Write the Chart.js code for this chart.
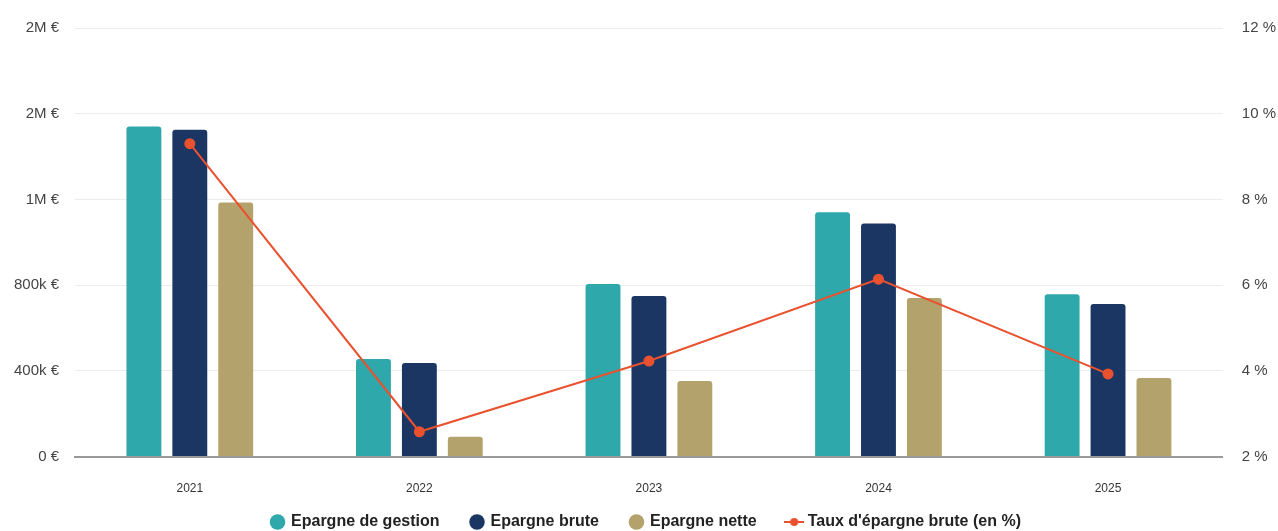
<!DOCTYPE html>
<html>
<head>
<meta charset="utf-8">
<script src="https://cdn.jsdelivr.net/npm/chart.js@4"></script>
<style>
  html, body { margin: 0; padding: 0; background: #fff; }
  #wrap { width: 1278px; height: 531px; }
</style>
</head>
<body>
<div id="wrap"><canvas id="epargneChart"></canvas></div>
<script>
const years = ['2021', '2022', '2023', '2024', '2025'];
const epargneGestion = [1540000, 456000, 805000, 1140000, 758000];
const epargneBrute = [1525000, 437000, 749000, 1088000, 712000];
const epargneNette = [1186000, 93000, 353000, 740000, 367000];
const tauxEpargne = [9.3, 2.58, 4.23, 6.14, 3.93];

const lineColor = '#e9512f';
const fontFam = 'Liberation Sans, Arial, sans-serif';

// small marker for the line in the legend
const lineMarker = document.createElement('canvas');
lineMarker.width = 20;
lineMarker.height = 10;
const mctx = lineMarker.getContext('2d');
mctx.strokeStyle = lineColor;
mctx.lineWidth = 2;
mctx.beginPath();
mctx.moveTo(0, 5);
mctx.lineTo(20, 5);
mctx.stroke();
mctx.fillStyle = lineColor;
mctx.beginPath();
mctx.arc(10, 5, 4, 0, Math.PI * 2);
mctx.fill();

const euro = v => {
  if (v === 0) return '0 €';
  if (v >= 1000000) return Math.round(v / 1000000) + 'M €';
  return Math.round(v / 1000) + 'k €';
};

// keep wide gaps between legend items but a short legend box
const legendSqueeze = {
  id: 'legendSqueeze',
  beforeUpdate(chart) {
    const lg = chart.legend;
    if (!lg || lg._squeezed) return;
    lg._squeezed = true;
    const fit = lg.fit, draw = lg.draw;
    lg.fit = function () { fit.call(this); this.height = 18; };
    lg.draw = function () { const t = this.top; this.top = t - 31; draw.call(this); this.top = t; };
  }
};

const barOpts = {
  type: 'bar',
  yAxisID: 'y',
  categoryPercentage: 0.6,
  barPercentage: 0.76,
  borderRadius: 3,
  borderSkipped: 'bottom',
  order: 2
};

const ctx = document.getElementById('epargneChart').getContext('2d');
new Chart(ctx, {
  data: {
    labels: years,
    datasets: [
      { ...barOpts, label: 'Epargne de gestion', data: epargneGestion, backgroundColor: '#2ea8aa' },
      { ...barOpts, label: 'Epargne brute', data: epargneBrute, backgroundColor: '#1c3664' },
      { ...barOpts, label: 'Epargne nette', data: epargneNette, backgroundColor: '#b3a26c' },
      {
        type: 'line',
        label: "Taux d'épargne brute (en %)",
        data: tauxEpargne,
        yAxisID: 'y1',
        borderColor: lineColor,
        backgroundColor: lineColor,
        borderWidth: 2,
        pointRadius: 4.5,
        pointHoverRadius: 5,
        pointStyle: 'circle',
        tension: 0,
        order: 1
      }
    ]
  },
  plugins: [legendSqueeze],
  options: {
    responsive: true,
    maintainAspectRatio: false,
    animation: false,
    layout: { padding: { top: 23, left: -2, right: -17, bottom: 0 } },
    plugins: {
      tooltip: { enabled: false },
      legend: {
        position: 'bottom',
        labels: {
          usePointStyle: true,
          boxWidth: 11,
          boxHeight: 11,
          padding: 32,
          color: '#222',
          font: { family: fontFam, size: 16, weight: 'bold' },
          generateLabels(chart) {
            const items = Chart.defaults.plugins.legend.labels.generateLabels(chart);
            items.sort((a, b) => a.datasetIndex - b.datasetIndex);
            items.forEach(it => {
              it.pointStyle = it.datasetIndex === 3 ? lineMarker : 'circle';
              it.lineWidth = 0;
              it.strokeStyle = 'transparent';
            });
            return items;
          }
        }
      }
    },
    scales: {
      x: {
        grid: { display: false },
        border: { display: true, color: '#999', width: 2 },
        ticks: { color: '#333', padding: 17, font: { family: fontFam, size: 12 } }
      },
      y: {
        position: 'left',
        min: 0,
        max: 2000000,
        ticks: {
          stepSize: 400000,
          padding: 16,
          color: '#444',
          callback: euro,
          font: { family: fontFam, size: 15 }
        },
        grid: { color: '#ececec', drawTicks: false },
        border: { display: false }
      },
      y1: {
        position: 'right',
        min: 2,
        max: 12,
        ticks: {
          stepSize: 2,
          padding: 19,
          color: '#444',
          callback: v => v + ' %',
          font: { family: fontFam, size: 15 }
        },
        grid: { display: false, drawTicks: false },
        border: { display: false }
      }
    }
  }
});
</script>
</body>
</html>
